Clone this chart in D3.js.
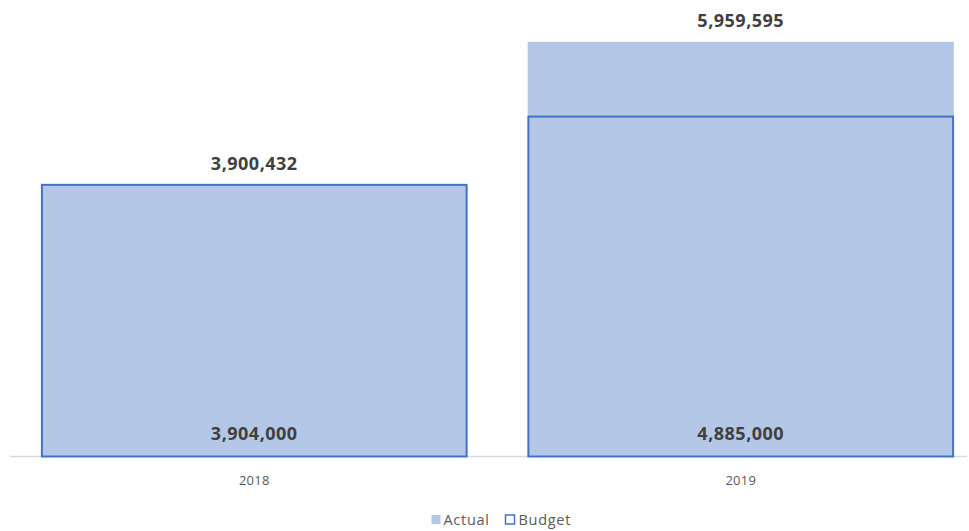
<!DOCTYPE html>
<html><head><meta charset="utf-8">
<script src="https://cdn.jsdelivr.net/npm/d3@7"></script>
<style>body{margin:0;background:#fff}svg{display:block}</style>
</head><body>
<svg id="c" width="969" height="531"></svg>
<script>
const categories = ["2018", "2019"];
const actual = [3900432, 5959595];
const budget = [3904000, 4885000];
const legendLabels = ["Actual", "Budget"];

const svg = d3.select("#c");
const fmt = d3.format(",");
const baseY = 456.5;
const x = d3.scaleBand().domain(categories).range([11, 984]).paddingInner(0.124).paddingOuter(0.062);
const y = d3.scaleLinear().domain([0, 6000000]).range([baseY, 39]);
const font = "'Open Sans', 'Liberation Sans', sans-serif";

// axis
const xAxis = d3.axisBottom(x).tickSize(0).tickPadding(0);
const gx = svg.append("g").attr("transform", `translate(0,${baseY})`).call(xAxis);
gx.select(".domain").remove();
svg.append("line").attr("x1", 10).attr("x2", 967).attr("y1", baseY).attr("y2", baseY)
  .attr("stroke", "#d9d9d9").attr("stroke-width", 1.5);
gx.selectAll("text").attr("y", 28).attr("dy", 0).attr("fill", "#595959")
  .style("font-family", font).style("font-size", "13px").style("letter-spacing", "0.2px");

// actual bars
svg.append("g").selectAll("rect").data(actual).join("rect")
  .attr("x", (d, i) => x(categories[i])).attr("width", x.bandwidth())
  .attr("y", d => y(d)).attr("height", d => baseY - y(d))
  .attr("fill", "#b4c7e7");

// budget outlines
svg.append("g").selectAll("rect").data(budget).join("rect")
  .attr("x", (d, i) => x(categories[i]) + 0.75).attr("width", x.bandwidth() - 1.5)
  .attr("y", d => y(d)).attr("height", d => baseY - y(d))
  .attr("fill", "none").attr("stroke", "#4472c4").attr("stroke-width", 2);

// labels
const lblStyle = sel => sel.attr("text-anchor", "middle").attr("fill", "#404040")
  .style("font-family", font).style("font-size", "18px").style("font-weight", "bold")
  .style("letter-spacing", "0.5px");
svg.append("g").selectAll("text").data(actual).join("text")
  .attr("x", (d, i) => x(categories[i]) + x.bandwidth() / 2)
  .attr("y", d => y(d) - 15)
  .call(lblStyle)
  .text(d => fmt(d));
svg.append("g").selectAll("text").data(budget).join("text")
  .attr("x", (d, i) => x(categories[i]) + x.bandwidth() / 2)
  .attr("y", baseY - 17)
  .call(lblStyle)
  .text(d => fmt(d));

// legend
const lg = svg.append("g").style("font-family", font).style("font-size", "14.5px").style("letter-spacing", "0.7px");
lg.append("rect").attr("x", 431.5).attr("y", 515).attr("width", 9).attr("height", 9).attr("fill", "#b4c7e7");
lg.append("text").attr("x", 443.5).attr("y", 525).attr("fill", "#595959").text(legendLabels[0]);
lg.append("rect").attr("x", 505.5).attr("y", 515).attr("width", 9).attr("height", 9)
  .attr("fill", "none").attr("stroke", "#4472c4").attr("stroke-width", 1.5);
lg.append("text").attr("x", 518.5).attr("y", 525).attr("fill", "#595959").text(legendLabels[1]);
</script>
</body></html>
